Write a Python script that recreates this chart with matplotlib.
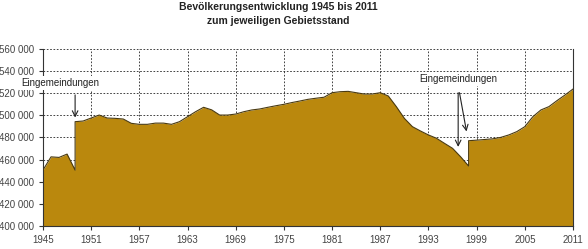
import matplotlib.pyplot as plt

# Einwohner je Jahr (1949 und 1998 doppelt: Sprung durch Eingemeindungen)
jahre = [1945, 1946, 1947, 1948, 1949, 1949, 1950, 1951, 1952, 1953, 1954, 1955,
         1956, 1957, 1958, 1959, 1960, 1961, 1962, 1963, 1964, 1965, 1966, 1967,
         1968, 1969, 1970, 1971, 1972, 1973, 1974, 1975, 1976, 1977, 1978, 1979,
         1980, 1981, 1982, 1983, 1984, 1985, 1986, 1987, 1988, 1989, 1990, 1991,
         1992, 1993, 1994, 1995, 1996, 1997, 1998, 1998, 1999, 2000, 2001, 2002,
         2003, 2004, 2005, 2006, 2007, 2008, 2009, 2010, 2011]
einwohner = [450500, 462500, 462000, 465000, 450500, 494300, 494900, 497600, 500300,
             497600, 497300, 496700, 492800, 491900, 491900, 493000, 493000, 491900,
             494300, 498800, 503300, 507300, 505000, 500300, 500300, 501200, 503300,
             504900, 505800, 507300, 508700, 510000, 511600, 513000, 514500, 515500,
             516400, 520500, 521400, 521700, 520500, 519300, 519300, 520500, 517500,
             507900, 497300, 489800, 485900, 482300, 479300, 474700, 470200, 462600,
             454200, 477100, 477600, 478200, 478800, 480100, 482300, 485300, 489800,
             498800, 504900, 507900, 513300, 518400, 523800]

x_ticks = list(range(1945, 2012, 6))
y_ticks = list(range(400000, 560001, 20000))

plt.rcParams['font.family'] = ['Liberation Sans', 'DejaVu Sans']

fig = plt.figure(figsize=(5.88, 2.49), dpi=100)
ax = fig.add_axes([0.0731, 0.0924, 0.9014, 0.7108])

ax.fill_between(jahre, einwohner, 400000, color='#ba880d', lw=0, zorder=2)
ax.plot(jahre, einwohner, color='#4a3a10', lw=0.8, zorder=3)

ax.set_xlim(1945, 2011)
ax.set_ylim(400000, 560000)
ax.set_xticks(x_ticks)
ax.set_yticks(y_ticks)
ax.set_yticklabels(['{:,}'.format(v).replace(',', ' ') for v in y_ticks])
ax.tick_params(labelsize=7, colors='#333333', labelcolor='#444444', length=3, width=0.8)
ax.grid(True, color='#222222', ls=(0, (2, 2)), lw=0.6, zorder=1)

for s in ['left', 'bottom', 'right']:
    ax.spines[s].set_color('#333333')
    ax.spines[s].set_linewidth(0.8)
ax.spines['top'].set_visible(False)

box = dict(facecolor='white', edgecolor='none', pad=1.5)
ax.text(1942.3, 529500, 'Eingemeindungen', fontsize=7, color='#222222',
        ha='left', va='center', bbox=box, zorder=4)
ax.annotate('', xy=(1949, 495500), xytext=(1949, 521000),
            arrowprops=dict(arrowstyle='->', color='#222222', lw=0.8), zorder=4)

ax.text(1996.7, 532500, 'Eingemeindungen', fontsize=7, color='#222222',
        ha='center', va='center', bbox=box, zorder=4)
ax.annotate('', xy=(1996.7, 469000), xytext=(1996.7, 523000),
            arrowprops=dict(arrowstyle='->', color='#222222', lw=0.8), zorder=4)
ax.annotate('', xy=(1997.8, 483000), xytext=(1996.8, 523000),
            arrowprops=dict(arrowstyle='->', color='#222222', lw=0.8), zorder=4)

fig.text(0.473, 0.943, 'Bevölkerungsentwicklung 1945 bis 2011\nzum jeweiligen Gebietsstand',
         ha='center', va='center', fontsize=7.5, fontweight='bold', color='#222222',
         linespacing=1.5)

fig.savefig('out.png', dpi=100)
